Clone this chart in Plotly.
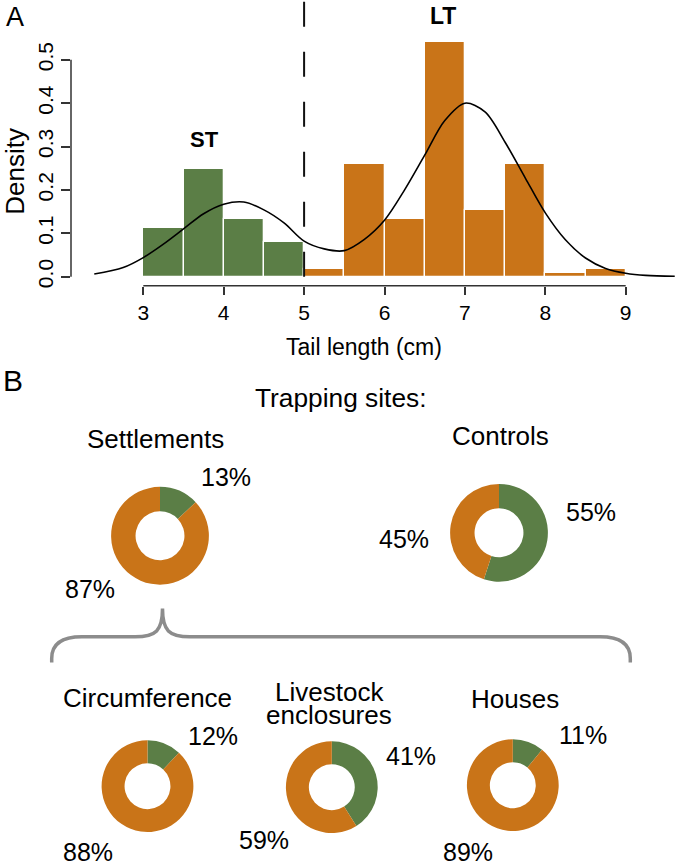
import plotly.graph_objects as go

# ---------------- data ----------------
bin_starts = [3.0, 3.5, 4.0, 4.5, 5.0, 5.5, 6.0, 6.5, 7.0, 7.5, 8.0, 8.5]
bin_density = [0.113, 0.249, 0.133, 0.080, 0.018, 0.260, 0.133, 0.542, 0.154, 0.260, 0.008, 0.018]
bin_width = 0.5
threshold = 5.0

curve_x = [2.39, 2.75, 3.0, 3.25, 3.5, 3.75, 4.0, 4.25, 4.5, 4.75, 5.0, 5.25, 5.5,
           5.75, 6.0, 6.25, 6.5, 6.75, 7.0, 7.25, 7.5, 7.75, 8.0, 8.25, 8.5, 8.75, 9.0,
           9.25, 9.61]
curve_y = [0.006, 0.021, 0.044, 0.075, 0.110, 0.145, 0.167, 0.172, 0.154, 0.124, 0.082,
           0.064, 0.060, 0.086, 0.130, 0.200, 0.280, 0.360, 0.400, 0.380, 0.310, 0.228,
           0.147, 0.085, 0.043, 0.019, 0.008, 0.003, 0.001]

x_ticks = [3, 4, 5, 6, 7, 8, 9]
y_ticks = [0.0, 0.1, 0.2, 0.3, 0.4, 0.5]
y_ticktext = ["0.0", "0.1", "0.2", "0.3", "0.4", "0.5"]

site_names = ["Settlements", "Controls", "Circumference", "Livestock enclosures", "Houses"]
st_pct = [13, 55, 12, 41, 11]
lt_pct = [87, 45, 88, 59, 89]

# ---------------- styles / layout ----------------
W, H = 677, 866
GREEN = "#5B7E46"
ORANGE = "#C97418"
FONT = "Liberation Sans, Arial, Helvetica, sans-serif"


def px(x):
    return x / W


def py(y):
    return 1 - y / H


fig = go.Figure()

# histogram bars
centers = [s + bin_width / 2 for s in bin_starts]
colors = [GREEN if s < threshold else ORANGE for s in bin_starts]
fig.add_trace(go.Bar(x=centers, y=bin_density, width=bin_width,
                     marker=dict(color=colors, line=dict(color="white", width=1.3)),
                     xaxis="x", yaxis="y", showlegend=False, hoverinfo="skip"))
# density curve
fig.add_trace(go.Scatter(x=curve_x, y=curve_y, mode="lines",
                         line=dict(color="black", width=1.6, shape="spline", smoothing=0.9),
                         xaxis="x", yaxis="y", showlegend=False, hoverinfo="skip"))

# axes geometry (pixel positions of the R-style plot)
x_left_px, x_right_px = 71, 677
px_per_unit = 80.4
x3_px = 143.3
xr = [3 + (x_left_px - x3_px) / px_per_unit, 3 + (x_right_px - x3_px) / px_per_unit]
y0_px, py_per_unit = 277.3, 434.7
axis_bottom_px = 286.5
yr = [-(axis_bottom_px - y0_px) / py_per_unit, y0_px / py_per_unit]

fig.update_layout(
    xaxis=dict(domain=[px(x_left_px), 1], range=xr, tickvals=x_ticks, ticks="outside",
               ticklen=8, tickwidth=1.5, tickcolor="#333", showline=False, showgrid=False,
               zeroline=False, tickfont=dict(family=FONT, size=21, color="black"),
               anchor="y", fixedrange=True),
    yaxis=dict(domain=[py(axis_bottom_px), 1], range=yr, tickvals=y_ticks, ticktext=y_ticktext,
               ticks="outside", ticklen=9, tickwidth=1.5, tickcolor="#333", showline=False,
               showgrid=False, zeroline=False, tickangle=-90,
               tickfont=dict(family=FONT, size=21, color="black"), anchor="x", fixedrange=True),
)

shapes = []
# R-style axis lines spanning only the tick range
shapes.append(dict(type="line", xref="x", yref="y domain", x0=x_ticks[0], x1=x_ticks[-1], y0=0, y1=0,
                   line=dict(color="#333", width=1.5)))
shapes.append(dict(type="line", xref="x domain", yref="y", x0=0, x1=0, y0=y_ticks[0], y1=y_ticks[-1],
                   line=dict(color="#333", width=1.5)))
# threshold dashed line
shapes.append(dict(type="line", xref="x", yref="y", x0=threshold, x1=threshold, y0=0, y1=yr[1],
                   line=dict(color="#111", width=2, dash="25px,25px"), layer="above"))

# brace (pixel path converted to paper)
def P(x, y):
    return f"{px(x):.5f},{py(y):.5f}"

brace = (f"M {P(51.7, 664)} L {P(51.7, 660)} Q {P(51.7, 638.3)} {P(82, 638.3)} "
         f"L {P(135, 638.3)} C {P(156, 638.3)} {P(162.5, 632)} {P(162.5, 610)} "
         f"C {P(162.5, 632)} {P(169, 638.3)} {P(190, 638.3)} "
         f"L {P(600, 638.3)} Q {P(630.3, 638.3)} {P(630.3, 660)} L {P(630.3, 664)}")
shapes.append(dict(type="path", xref="paper", yref="paper", path=brace,
                   line=dict(color="#8C8C8C", width=3.5)))

# donuts
donut_centers = [(160, 537), (499, 534), (147.5, 788), (331.8, 789), (512.8, 787)]
donut_diam = [98, 98, 92, 92, 92]
for (cx, cy), d, g, o in zip(donut_centers, donut_diam, st_pct, lt_pct):
    fig.add_trace(go.Pie(values=[g, o], labels=["ST", "LT"], sort=False, direction="clockwise",
                         rotation=0, hole=0.5, textinfo="none", hoverinfo="skip",
                         marker=dict(colors=[GREEN, ORANGE], line=dict(width=0)),
                         domain=dict(x=[px(cx - d / 2), px(cx + d / 2)],
                                     y=[py(cy + d / 2), py(cy - d / 2)]),
                         showlegend=False))

ann = []


def text(x, y, s, size=25, bold=False, angle=0):
    ann.append(dict(x=px(x), y=py(y), xref="paper", yref="paper", text=f"<b>{s}</b>" if bold else s,
                    showarrow=False, xanchor="center", yanchor="middle", textangle=angle,
                    font=dict(family=FONT, size=size, color="black")))


# panel A texts
text(15, 17.5, "A", size=27)
text(15.5, 171.7, "Density", size=26, angle=-90)
text(364, 348.3, "Tail length (cm)", size=23)
text(205, 139.7, "ST", size=22, bold=True)
text(443.3, 15.7, "LT", size=23, bold=True)

# panel B texts
text(13, 381.7, "B", size=30)
text(341, 399, "Trapping sites:", size=26.3)
name_pos = [(155, 440), (500, 437), (147.5, 700), (329.3, 693.3), (515.3, 700.3)]
line_gap = 23.4
for (nx, ny), name in zip(name_pos, site_names):
    if name == "Livestock enclosures":
        parts = name.split(" ")
        for i, part in enumerate(parts):
            text(nx, ny + i * line_gap, part, size=26)
    else:
        text(nx, ny, name, size=26)

st_label_pos = [(225.8, 478.3), (591.3, 513.3), (213.3, 737.3), (411.3, 757.3), (583.3, 736.3)]
lt_label_pos = [(90, 590.7), (403.5, 540), (88.3, 854.3), (264.3, 842), (468.3, 853.7)]
for (x, y), v in zip(st_label_pos, st_pct):
    text(x, y, f"{v}%", size=25)
for (x, y), v in zip(lt_label_pos, lt_pct):
    text(x, y, f"{v}%", size=25)

fig.update_layout(width=W, height=H, margin=dict(l=0, r=0, t=0, b=0),
                  paper_bgcolor="white", plot_bgcolor="white", bargap=0,
                  shapes=shapes, annotations=ann, showlegend=False)

fig.write_html("out.html", config={"displayModeBar": False},
               post_script="document.body.style.margin='0';document.body.style.padding='0';")
